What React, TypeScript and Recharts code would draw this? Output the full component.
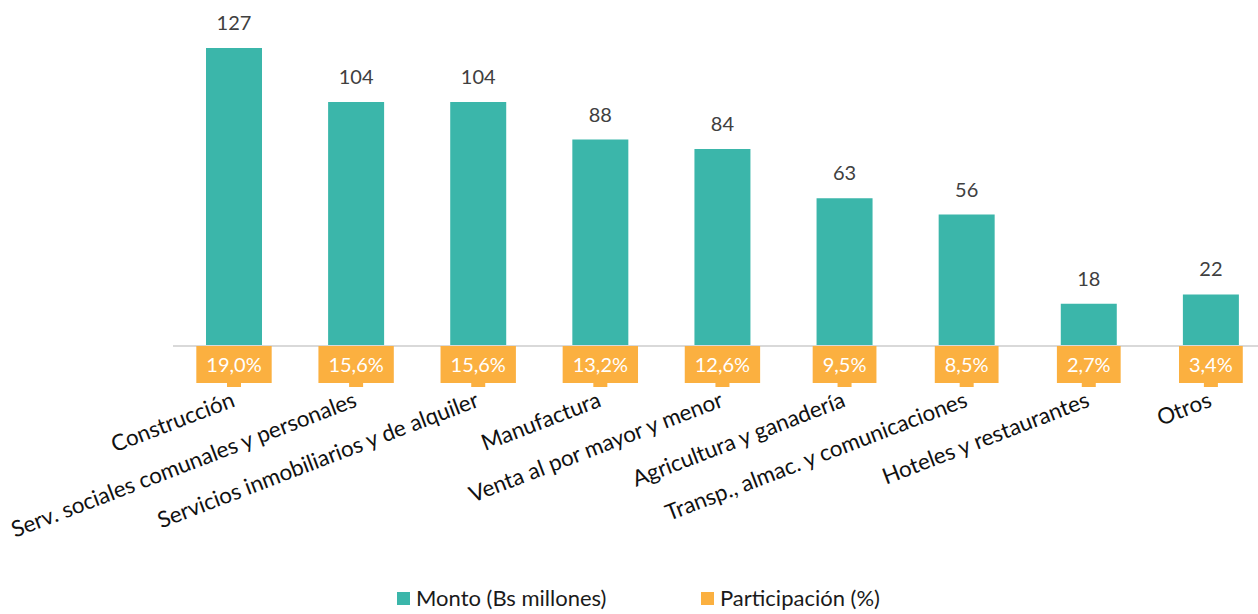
import React from "react";
import { ComposedChart, Bar, XAxis, YAxis, LabelList } from "recharts";

const categories = [
  "Construcción",
  "Serv. sociales comunales y personales",
  "Servicios inmobiliarios y de alquiler",
  "Manufactura",
  "Venta al por mayor y menor",
  "Agricultura y ganadería",
  "Transp., almac. y comunicaciones",
  "Hoteles y restaurantes",
  "Otros",
];
const monto = [127, 104, 104, 88, 84, 63, 56, 18, 22];
const participacion = [19.0, 15.6, 15.6, 13.2, 12.6, 9.5, 8.5, 2.7, 3.4];

const TEAL = "#3BB6AA";
const ORANGE = "#FBB040";
const FONT = "Lato, 'Open Sans', sans-serif";

const data = categories.map((name, i) => ({
  name,
  monto: monto[i],
  part: participacion[i],
}));

const fmtPct = (v: number) => v.toFixed(1).replace(".", ",") + "%";

let ctx: CanvasRenderingContext2D | null = null;
function textWidth(s: string) {
  if (!ctx) ctx = document.createElement("canvas").getContext("2d");
  if (!ctx) return s.length * 11;
  ctx.font = "20px Lato";
  return ctx.measureText(s).width;
}

// orange box sitting on the baseline under each bar
const PartLabel = (props: any) => {
  const { x, y, width, height, value } = props;
  const cx = x + width / 2;
  const base = y + height;
  const text = fmtPct(value);
  const w = textWidth(text) + 20;
  return (
    <g>
      <rect x={cx - 7} y={base + 30} width={14} height={11} fill={ORANGE} />
      <rect x={cx - w / 2} y={base} width={w} height={37} fill={ORANGE} />
      <text x={cx} y={base + 26} textAnchor="middle" fill="#fff" fontSize={20} fontFamily={FONT}>
        {text}
      </text>
    </g>
  );
};

const Tick = (props: any) => {
  const { x, y, payload } = props;
  const tx = x + 2;
  const ty = y + 52;
  return (
    <text
      x={tx}
      y={ty}
      textAnchor="end"
      fill="#111"
      fontSize={22.4}
      fontFamily={FONT}
      transform={`rotate(-21, ${tx}, ${ty})`}
    >
      {payload.value}
    </text>
  );
};

const legendItems = [
  { label: "Monto (Bs millones)", color: TEAL, left: 397 },
  { label: "Participación (%)", color: ORANGE, left: 701 },
];

export default function App() {
  return (
    <div style={{ position: "relative", width: 1258, height: 614, overflow: "hidden", background: "#fff" }}>
      <style>{`body{margin:0}`}</style>
      <ComposedChart
        width={1275}
        height={614}
        data={data}
        margin={{ top: 17.5, right: 3, left: 173, bottom: 0 }}
      >
        <XAxis
          dataKey="name"
          interval={0}
          height={268}
          tickLine={false}
          axisLine={{ stroke: "#d9d9d9", strokeWidth: 2 }}
          tick={<Tick />}
        />
        <YAxis hide domain={[0, 140]} />
        <Bar dataKey="monto" name="Monto (Bs millones)" fill={TEAL} barSize={56} isAnimationActive={false}>
          <LabelList dataKey="monto" position="top" offset={18} fill="#404040" fontSize={20} fontFamily={FONT} />
          <LabelList dataKey="part" content={<PartLabel />} />
        </Bar>
      </ComposedChart>
      {legendItems.map((it) => (
        <div
          key={it.label}
          style={{
            position: "absolute",
            top: 586,
            left: it.left,
            display: "flex",
            alignItems: "center",
            fontFamily: FONT,
            fontSize: 22,
            color: "#1a1a1a",
            lineHeight: "24px",
            whiteSpace: "nowrap",
          }}
        >
          <span style={{ width: 13, height: 13, background: it.color, display: "inline-block", marginRight: 6 }} />
          {it.label}
        </div>
      ))}
    </div>
  );
}
